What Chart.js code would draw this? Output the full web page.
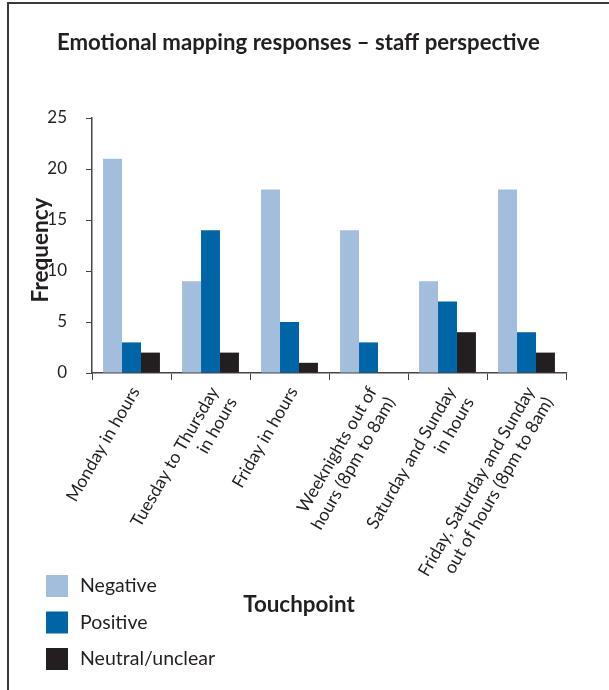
<!DOCTYPE html>
<html>
<head>
<meta charset="utf-8">
<script src="https://cdn.jsdelivr.net/npm/chart.js@4"></script>
<style>
  html, body { margin: 0; padding: 0; background: #fff; overflow: hidden; }
  #frame { position: absolute; left: 7px; top: 2px; width: 640px; height: 720px; border: 2px solid #3a3a3a; }
  #wrap { position: absolute; left: 0; top: 0; width: 609px; height: 690px; }
</style>
</head>
<body>
<div id="frame"></div>
<div id="wrap"><canvas id="chart"></canvas></div>
<script>
const categories = [
  "Monday in hours",
  ["Tuesday to Thursday", "in hours"],
  "Friday in hours",
  ["Weeknights out of", "hours (8pm to 8am)"],
  ["Saturday and Sunday", "in hours"],
  ["Friday, Saturday and Sunday", "out of hours (8pm to 8am)"]
];
const negative = [21, 9, 18, 14, 9, 18];
const positive = [3, 14, 5, 3, 7, 4];
const neutral = [2, 2, 1, 0, 4, 2];
const yTicks = [0, 5, 10, 15, 20, 25];

const FONT = "Lato, 'Open Sans', sans-serif";
const INK = "#231f20";

// pick a font size so the text spans about the same width as in the print
function fitFont(c, text, weight, width) {
  c.font = weight + " 20px " + FONT;
  const size = 20 * width / c.measureText(text).width;
  c.font = weight + " " + size.toFixed(1) + "px " + FONT;
}

// title, axis titles and legend drawn by hand to match the print layout
const extras = {
  id: "extras",
  afterDraw(chart) {
    const c = chart.ctx;
    c.save();
    c.fillStyle = INK;
    c.textBaseline = "middle";

    const title = "Emotional mapping responses \u2013 staff perspective";
    fitFont(c, title, "bold", 483);
    c.textAlign = "left";
    c.fillText(title, 57, 43);

    fitFont(c, "Touchpoint", "bold", 112);
    c.textAlign = "center";
    c.fillText("Touchpoint", 299, 605);

    c.save();
    c.translate(41, 250);
    c.rotate(-Math.PI / 2);
    fitFont(c, "Frequency", "bold", 105);
    c.fillText("Frequency", 0, 0);
    c.restore();

    c.font = "19.5px " + FONT;
    c.textAlign = "left";
    chart.data.datasets.forEach((ds, i) => {
      const y = 575 + i * 36.5;
      c.fillStyle = ds.backgroundColor;
      c.fillRect(46, y, 22, 22);
      c.fillStyle = INK;
      c.fillText(ds.label, 80, y + 11);
    });
    c.restore();
  }
};

new Chart(document.getElementById("chart"), {
  type: "bar",
  data: {
    labels: categories,
    datasets: [
      { label: "Negative", data: negative, backgroundColor: "#a3bedd" },
      { label: "Positive", data: positive, backgroundColor: "#0065a6" },
      { label: "Neutral/unclear", data: neutral, backgroundColor: "#231f20" }
    ]
  },
  options: {
    responsive: true,
    maintainAspectRatio: false,
    animation: false,
    layout: { padding: { left: 0, right: 43, top: 118, bottom: 0 } },
    datasets: { bar: { categoryPercentage: 0.72, barPercentage: 1.0 } },
    scales: {
      x: {
        grid: { display: true, drawOnChartArea: false, offset: true, tickLength: 7, color: "#444", lineWidth: 1 },
        border: { color: "#444", width: 1.5 },
        ticks: { color: INK, font: { family: FONT, size: 17.5 }, minRotation: 60, maxRotation: 60, padding: 3, labelOffset: 4, autoSkip: false },
        afterFit: (s) => { s.height = 317; }
      },
      y: {
        min: 0,
        max: 25,
        grid: { display: true, drawOnChartArea: false, tickLength: 6, color: "#444", lineWidth: 1 },
        border: { color: "#444", width: 1.5 },
        afterBuildTicks: (s) => { s.ticks = yTicks.map(v => ({ value: v })); },
        ticks: { color: INK, font: { family: FONT, size: 17 }, padding: 19 },
        afterFit: (s) => { s.width = 92; }
      }
    },
    plugins: {
      legend: { display: false },
      title: { display: false },
      tooltip: { enabled: false }
    }
  },
  plugins: [extras]
});
</script>
</body>
</html>
